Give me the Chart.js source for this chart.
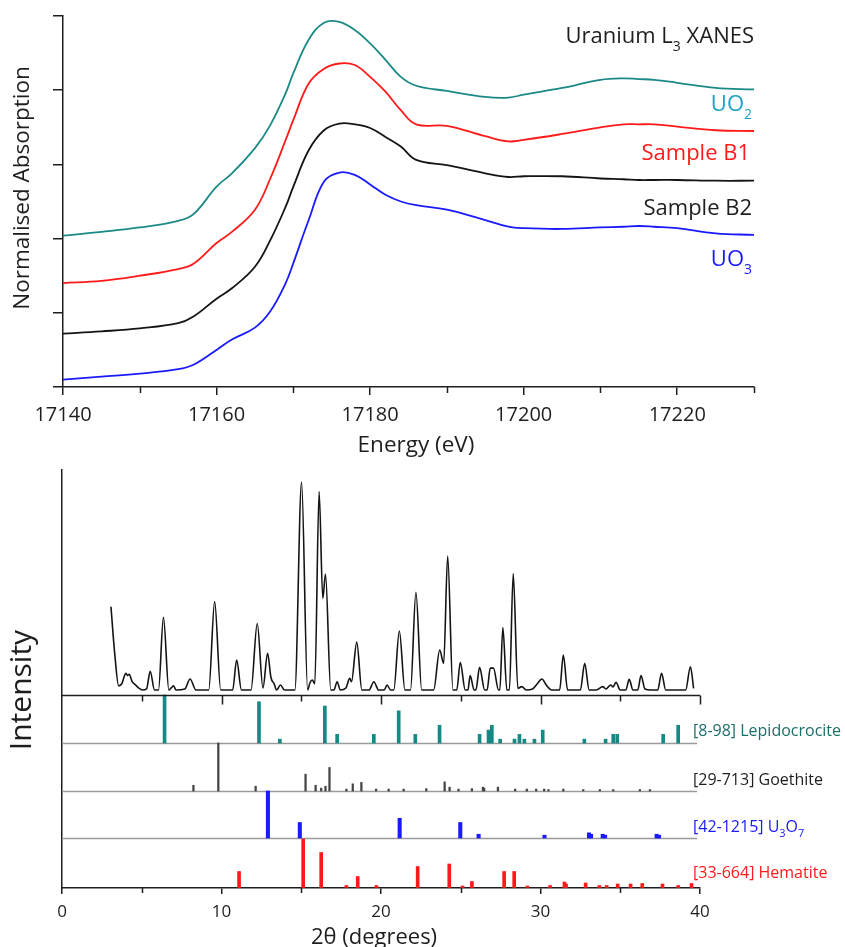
<!DOCTYPE html>
<html>
<head>
<meta charset="utf-8">
<script src="https://cdn.jsdelivr.net/npm/chart.js@4.4.1/dist/chart.umd.min.js"></script>
<style>
  html, body { margin: 0; padding: 0; background: #fff; }
  #wrap { position: relative; width: 845px; height: 947px; }
  canvas { position: absolute; left: 0; }
  #xanes { top: 0; }
  #xrd { top: 460px; }
</style>
</head>
<body>
<div id="wrap">
  <canvas id="xanes" width="845" height="460"></canvas>
  <canvas id="xrd" width="845" height="487"></canvas>
</div>
<script>
// ---- XANES (top panel), offset-stacked normalised absorption ----
const energy = [17140, 17145, 17150, 17155, 17157, 17160, 17162, 17165, 17167, 17169, 17170,
  17172, 17174, 17176, 17178, 17180, 17182, 17184, 17186, 17190, 17195, 17198, 17200,
  17205, 17210, 17213, 17215, 17217, 17220, 17225, 17230];
const uo2 = [2.04, 2.09, 2.15, 2.24, 2.33, 2.70, 2.88, 3.22, 3.53, 3.96, 4.23,
  4.68, 4.91, 4.92, 4.81, 4.63, 4.41, 4.18, 4.06, 3.99, 3.91, 3.90, 3.94,
  4.03, 4.14, 4.16, 4.15, 4.14, 4.10, 4.03, 4.01];
const sampleB1 = [1.40, 1.43, 1.50, 1.59, 1.66, 1.94, 2.09, 2.39, 2.81, 3.33, 3.60,
  4.09, 4.29, 4.36, 4.34, 4.18, 3.98, 3.73, 3.54, 3.52, 3.38, 3.31, 3.33,
  3.41, 3.50, 3.54, 3.54, 3.54, 3.51, 3.46, 3.45];
const sampleB2 = [0.72, 0.75, 0.79, 0.86, 0.95, 1.19, 1.33, 1.62, 1.98, 2.43, 2.70,
  3.19, 3.46, 3.55, 3.54, 3.49, 3.37, 3.24, 3.06, 2.99, 2.88, 2.83, 2.84,
  2.84, 2.81, 2.80, 2.79, 2.79, 2.79, 2.78, 2.78];
const uo3 = [0.10, 0.14, 0.18, 0.24, 0.30, 0.50, 0.64, 0.80, 1.02, 1.40, 1.67,
  2.25, 2.77, 2.89, 2.86, 2.73, 2.59, 2.50, 2.45, 2.39, 2.25, 2.16, 2.14,
  2.13, 2.15, 2.16, 2.17, 2.16, 2.14, 2.07, 2.05];

// ---- XRD pattern (bottom panel) ----
const twoTheta = [3.07, 3.3, 3.55, 3.75, 4.0, 4.1, 4.21, 4.4, 4.6, 4.8, 5.05, 5.3, 5.53, 5.8,
  6.05, 6.36, 6.7, 6.85, 6.99, 7.15, 7.7, 8.03, 8.4, 9.2, 9.57, 9.95, 10.7, 10.95, 11.25,
  11.85, 12.24, 12.6, 12.89, 13.1, 13.3, 13.45, 13.7, 13.95, 14.6, 15.02, 15.4, 15.55,
  15.69, 15.85, 16.12, 16.35, 16.52, 16.85, 17.05, 17.25, 17.45, 17.8, 18.04, 18.15,
  18.48, 18.8, 19.25, 19.55, 19.85, 20.2, 20.38, 20.6, 20.8, 21.15, 21.5, 21.85, 22.19,
  22.55, 23.3, 23.68, 23.93, 24.18, 24.51, 24.75, 24.97, 25.28, 25.45, 25.59, 25.84,
  25.95, 26.18, 26.5, 26.65, 26.85, 27.05, 27.37, 27.45, 27.64, 27.89, 28.05, 28.29,
  28.58, 28.83, 29.1, 29.5, 29.8, 30.08, 30.4, 30.7, 31.2, 31.43, 31.7, 32.5, 32.77,
  33.05, 33.5, 33.9, 34.1, 34.4, 34.55, 34.73, 35.0, 35.35, 35.56, 35.8, 36.1, 36.3,
  36.55, 36.9, 37.35, 37.59, 37.85, 39.1, 39.4, 39.6];
const intensity = [40, 18, 2, 3, 8, 7, 7.5, 4, 2.5, 1, 0, 0.5, 9, 0,
  0, 35, 0, 1, 2, 0, 0.5, 5.3, 0, 0, 42.5, 0, 0, 14.4, 0,
  0, 32, 1, 17.6, 6, 3, 0, 2.4, 0, 0, 100, 0, 3.5,
  4.8, 3, 95.4, 44, 55.8, 0, 0, 4, 0, 1, 5.6, 4,
  23, 0, 0, 4, 0, 0, 2.4, 0, 0, 28.4, 0, 0, 47,
  0, 0, 19.2, 12.8, 64.4, 0, 0, 13.3, 0, 0, 6.9, 0,
  0, 10.9, 0, 0, 10.5, 10.5, 0, 0, 30, 0, 0, 56,
  0.8, 1.6, 0, 0.5, 3, 5.3, 2, 0, 0, 16.8, 0, 0, 12.8,
  0, 0, 1.6, 0.5, 2.4, 1.5, 3.7, 0, 0, 5.1, 0, 0, 6.9,
  0.5, 0, 0, 8, 0, 0, 11.2, 0.8];

// reference stick patterns (relative intensity, %)
const lepAngle = [6.43, 12.35, 13.66, 16.48, 17.25, 19.55, 21.11, 22.15, 23.67, 26.18, 26.74,
  26.95, 27.47, 28.37, 28.68, 28.99, 29.62, 30.14, 32.75, 34.08, 34.56, 34.81, 37.69, 38.63];
const lepHeight = [100, 86, 8, 77, 18, 18, 67, 18, 37, 18, 27,
  37, 8, 8, 18, 8, 8, 27, 8, 8, 18, 18, 18, 37];
const goeAngle = [8.24, 9.8, 12.14, 15.27, 15.9, 16.25, 16.52, 16.77, 17.83, 18.23, 18.77,
  19.69, 20.48, 21.42, 22.84, 23.99, 24.3, 24.86, 25.7, 26.39, 26.47, 27.33, 28.41,
  29.14, 29.73, 30.23, 30.5, 31.43, 32.68, 33.72, 34.56, 36.23, 36.86];
const goeHeight = [12, 100, 10, 35, 12, 6, 10, 49, 4, 15, 18,
  4, 4, 4, 5, 19, 8, 4, 5, 8, 6, 8, 4,
  4, 4, 4, 3, 4, 3, 3, 3, 3, 3];
const u3o7Angle = [12.91, 14.91, 21.17, 24.97, 26.12, 30.25, 33.04, 33.17, 33.9, 34.05, 37.28, 37.43];
const u3o7Height = [100, 33, 42, 33, 8, 6, 11, 8, 8, 6, 8, 6];
const hemAngle = [11.1, 15.12, 16.25, 17.83, 18.54, 19.71, 22.3, 24.28, 25.11, 25.7, 27.72,
  28.35, 29.18, 30.6, 31.5, 31.6, 32.83, 33.69, 34.15, 34.84, 35.65, 36.38, 37.65, 38.63, 39.47];
const hemHeight = [33, 98, 71, 5, 23, 5, 43, 48, 4, 13, 33,
  33, 4, 5, 12, 8, 10, 5, 5, 8, 8, 9, 8, 5, 9];

const FONT = '"Open Sans", "Noto Sans", sans-serif';
const INK = '#1e1e1e';

// draw text with subscript parts: parts = [[text, isSub], ...]
function richText(ctx, parts, x, y, o) {
  const size = o.size, sub = o.sub || Math.round(size * 0.64), drop = o.drop || Math.round(size * 0.36);
  let total = 0;
  const widths = parts.map(p => {
    ctx.font = (p[1] ? sub : size) + 'px ' + FONT;
    const w = ctx.measureText(p[0]).width;
    total += w;
    return w;
  });
  let cx = o.align === 'right' ? x - total : (o.align === 'center' ? x - total / 2 : x);
  ctx.fillStyle = o.color;
  ctx.textAlign = 'left';
  ctx.textBaseline = 'alphabetic';
  parts.forEach((p, i) => {
    ctx.font = (p[1] ? sub : size) + 'px ' + FONT;
    ctx.fillText(p[0], cx, y + (p[1] ? drop : 0));
    cx += widths[i];
  });
}

function minorTicks(ctx, scale, values, yPix, len) {
  ctx.save();
  ctx.strokeStyle = INK;
  ctx.lineWidth = 1.5;
  ctx.beginPath();
  values.forEach(v => {
    const px = Math.round(scale.getPixelForValue(v)) + 0.5;
    ctx.moveTo(px, yPix);
    ctx.lineTo(px, yPix + len);
  });
  ctx.stroke();
  ctx.restore();
}

// ---------------- top chart ----------------
const xanesDecor = {
  id: 'xanesDecor',
  afterDraw(chart) {
    const ctx = chart.ctx;
    const x = chart.scales.x;
    ctx.save();
    minorTicks(ctx, x, [17150, 17170, 17190, 17210, 17230], chart.chartArea.bottom, 6);
    richText(ctx, [['Uranium L', false], ['3', true], [' XANES', false]], 754, 43, { size: 22, sub: 14, drop: 8, align: 'right', color: INK });
    richText(ctx, [['UO', false], ['2', true]], 752, 111, { size: 22, sub: 14, drop: 8, align: 'right', color: '#1fa0c8' });
    richText(ctx, [['Sample B1', false]], 750, 160, { size: 22, align: 'right', color: '#ff1a1a' });
    richText(ctx, [['Sample B2', false]], 752, 215, { size: 22, align: 'right', color: INK });
    richText(ctx, [['UO', false], ['3', true]], 752, 266, { size: 22, sub: 14, drop: 8, align: 'right', color: '#1a1aff' });
    ctx.font = '22.5px ' + FONT;
    ctx.fillStyle = INK;
    ctx.textAlign = 'center';
    ctx.textBaseline = 'middle';
    ctx.fillText('Energy (eV)', 416, 446);
    ctx.translate(23, 188);
    ctx.rotate(-Math.PI / 2);
    ctx.fillText('Normalised Absorption', 0, 0);
    ctx.restore();
  }
};

function xanesSet(values, color) {
  return {
    data: energy.map((e, i) => ({ x: e, y: values[i] })),
    borderColor: color,
    borderWidth: 1.8,
    pointRadius: 0,
    tension: 0.4,
    fill: false
  };
}

new Chart(document.getElementById('xanes'), {
  type: 'line',
  data: {
    datasets: [
      xanesSet(uo2, '#1b8a86'),
      xanesSet(sampleB1, '#ff1a1a'),
      xanesSet(sampleB2, '#141414'),
      xanesSet(uo3, '#1a1aff')
    ]
  },
  options: {
    responsive: false,
    animation: false,
    events: [],
    layout: { padding: { top: 16, right: 91, left: 0, bottom: 0 } },
    plugins: { legend: { display: false }, tooltip: { enabled: false } },
    scales: {
      x: {
        type: 'linear', min: 17140, max: 17230,
        afterFit: s => { s.height = 73; },
        border: { color: INK, width: 1.5 },
        grid: { drawOnChartArea: false, drawTicks: true, tickLength: 8, color: INK, lineWidth: 1.5 },
        ticks: {
          stepSize: 20, includeBounds: false, color: INK, padding: 8,
          font: { family: FONT, size: 20 },
          callback: v => String(v)
        }
      },
      y: {
        type: 'linear', min: 0, max: 5,
        afterFit: s => { s.width = 63; },
        border: { color: INK, width: 1.5 },
        grid: { drawOnChartArea: false, drawTicks: true, tickLength: 10, color: INK, lineWidth: 1.5 },
        ticks: { stepSize: 1, display: false }
      }
    }
  },
  plugins: [xanesDecor]
});

// ---------------- bottom chart ----------------
// vertical layout of the bottom frame, in y-scale units
const panels = [
  { name: 'lep', base: 145, height: 48 },
  { name: 'goe', base: 97, height: 48 },
  { name: 'u3o7', base: 50, height: 47 },
  { name: 'hem', base: 0, height: 50 }
];
const specAxis = 193, specBase = 198, specScale = 2.08;

function stickSet(angles, heights, panel, color, width) {
  return {
    type: 'bar',
    data: angles.map((a, i) => ({ x: a, y: [panel.base, panel.base + heights[i] / 100 * panel.height] })),
    backgroundColor: color,
    borderWidth: 0,
    barThickness: width,
    grouped: false
  };
}

const xrdDecor = {
  id: 'xrdDecor',
  beforeDatasetsDraw(chart) {
    const ctx = chart.ctx, ca = chart.chartArea, y = chart.scales.y;
    ctx.save();
    ctx.strokeStyle = '#9a9a9a';
    ctx.lineWidth = 1.5;
    [145, 97, 50].forEach(b => {
      const py = Math.round(y.getPixelForValue(b)) + 0.5;
      ctx.beginPath();
      ctx.moveTo(ca.left, py);
      ctx.lineTo(ca.right - 3, py);
      ctx.stroke();
    });
    ctx.restore();
  },
  afterDraw(chart) {
    const ctx = chart.ctx, ca = chart.chartArea, x = chart.scales.x, y = chart.scales.y;
    ctx.save();
    // axis between pattern and sticks
    const my = Math.round(y.getPixelForValue(specAxis)) + 0.5;
    ctx.strokeStyle = INK;
    ctx.lineWidth = 1.5;
    ctx.beginPath();
    ctx.moveTo(ca.left, my);
    ctx.lineTo(ca.right, my);
    ctx.stroke();
    minorTicks(ctx, x, [10, 20, 30, 40], my, 9);
    minorTicks(ctx, x, [5, 15, 25, 35], my, 6);
    minorTicks(ctx, x, [5, 15, 25, 35], ca.bottom, 5);

    richText(ctx, [['[8-98] Lepidocrocite', false]], 693, 276, { size: 16, align: 'left', color: '#1d6e68' });
    richText(ctx, [['[29-713] Goethite', false]], 693, 325, { size: 16, align: 'left', color: INK });
    richText(ctx, [['[42-1215] U', false], ['3', true], ['O', false], ['7', true]], 693, 372, { size: 16, sub: 11, drop: 5, align: 'left', color: '#1a1aff' });
    richText(ctx, [['[33-664] Hematite', false]], 693, 418, { size: 16, align: 'left', color: '#ff1a1a' });

    ctx.fillStyle = INK;
    ctx.textAlign = 'center';
    ctx.textBaseline = 'middle';
    ctx.font = '22px ' + FONT;
    ctx.fillText('2\u03b8 (degrees)', 374, 478);
    ctx.translate(22, 230);
    ctx.rotate(-Math.PI / 2);
    ctx.font = '30px ' + FONT;
    ctx.fillText('Intensity', 0, 0);
    ctx.restore();
  }
};

new Chart(document.getElementById('xrd'), {
  type: 'line',
  data: {
    datasets: [
      {
        type: 'line',
        data: twoTheta.map((t, i) => ({ x: t, y: specBase + intensity[i] * specScale })),
        borderColor: '#141414',
        borderWidth: 1.6,
        pointRadius: 0,
        cubicInterpolationMode: 'monotone',
        fill: false
      },
      stickSet(lepAngle, lepHeight, panels[0], '#158a84', 3),
      stickSet(goeAngle, goeHeight, panels[1], '#454545', 1.6),
      stickSet(u3o7Angle, u3o7Height, panels[2], '#1a1aff', 3.4),
      stickSet(hemAngle, hemHeight, panels[3], '#ff1a1a', 3)
    ]
  },
  options: {
    responsive: false,
    animation: false,
    events: [],
    layout: { padding: { top: 10, right: 145, left: 0, bottom: 0 } },
    plugins: { legend: { display: false }, tooltip: { enabled: false } },
    scales: {
      x: {
        type: 'linear', min: 0, max: 40, offset: false,
        afterFit: s => { s.height = 59; },
        border: { color: INK, width: 1.5 },
        grid: { offset: false, drawOnChartArea: false, drawTicks: true, tickLength: 6, color: INK, lineWidth: 1.5 },
        ticks: { stepSize: 10, color: INK, padding: 8, font: { family: FONT, size: 17 } }
      },
      y: {
        type: 'linear', min: 0, max: 418,
        afterFit: s => { s.width = 62; },
        border: { color: INK, width: 1.5 },
        grid: { drawOnChartArea: false, drawTicks: false },
        ticks: { display: false }
      }
    }
  },
  plugins: [xrdDecor]
});
</script>
</body>
</html>
